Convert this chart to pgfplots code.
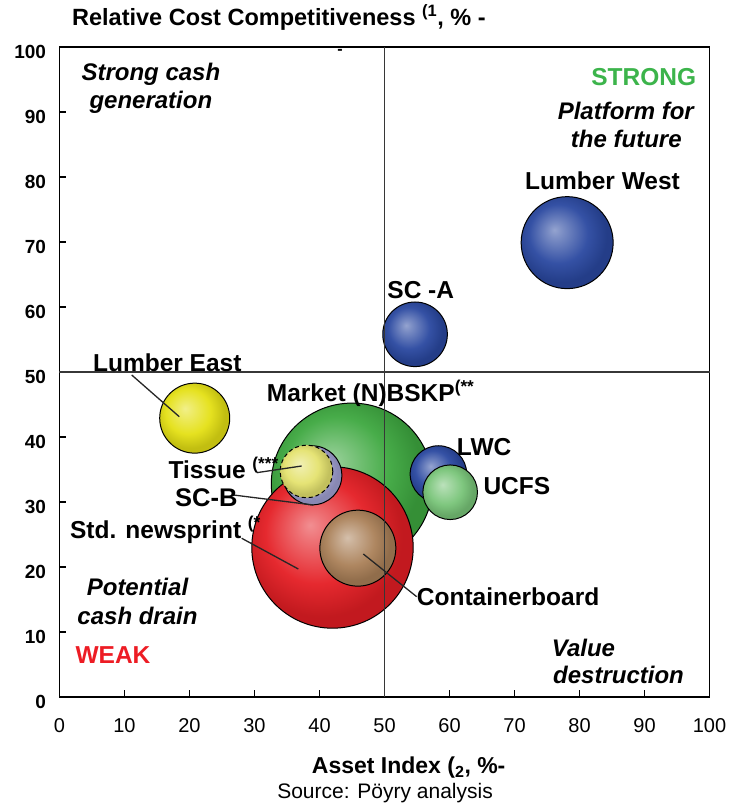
\documentclass[border=0pt]{standalone}
\usepackage{fontspec}
\setmainfont{Liberation Sans}
\usepackage{pgfplots}
\pgfplotsset{compat=1.18}

% bubble fill colours
\definecolor{cblue}{RGB}{42,72,160}
\definecolor{cyellow}{RGB}{228,224,20}
\definecolor{cgreen}{RGB}{62,168,64}
\definecolor{cred}{RGB}{228,30,36}
\definecolor{cbrown}{RGB}{170,128,88}
\definecolor{clav}{RGB}{160,160,210}
\definecolor{ctissue}{RGB}{228,226,110}
\definecolor{cucfs}{RGB}{120,196,120}
\definecolor{strong}{RGB}{60,180,75}
\definecolor{weak}{RGB}{237,28,36}
\definecolor{divider}{RGB}{55,55,55}

% glossy bubble: radial shading with the highlight up and to the left
\colorlet{bubcol}{cblue}
\pgfdeclareradialshading[bubcol]{bubble}{\pgfqpoint{-7bp}{7bp}}{%
  color(0bp)=(bubcol!50!white);
  color(4bp)=(bubcol!62!white);
  color(16bp)=(bubcol!95!white);
  color(25bp)=(bubcol!85!black);
  color(50bp)=(bubcol!85!black)}
\pgfdeclareplotmark{bubble}{%
  \pgfpathcircle{\pgfpointorigin}{\pgfplotmarksize}%
  \pgfshadepath{bubble}{0}%
  \pgfpathcircle{\pgfpointorigin}{\pgfplotmarksize}%
  \pgfusepathqstroke}

\pgfplotsset{
  bub/.style args={#1/#2}{only marks, mark=bubble, mark size=#2,
    mark options={/utils/exec={\colorlet{bubcol}{#1}}, draw=black, line width=1pt, solid}},
  leader/.style={no marks, black!85, line width=1.3pt, forget plot},
}
\newcommand{\lab}{\fontsize{24.5}{24.5}\selectfont\bfseries}
\newcommand{\quadfont}{\fontsize{24}{28}\selectfont\bfseries\itshape}

\begin{document}
\begin{tikzpicture}
\useasboundingbox (-59.5pt,-108pt) rectangle (668.5pt,697pt);
\begin{axis}[
  at={(0pt,0pt)}, anchor=south west,
  scale only axis, width=650pt, height=650pt,
  xmin=0, xmax=100, ymin=0, ymax=100,
  xtick={0,10,...,100}, ytick={0,10,...,100},
  xtick pos=bottom, ytick pos=left,
  tick align=inside, major tick length=7pt,
  tick style={black, line width=1.3pt},
  axis line style={black, line width=1.5pt},
  /pgf/number format/assume math mode=true,
  xticklabel style={font=\fontsize{20}{20}\selectfont, yshift=-18pt},
  yticklabel style={font=\fontsize{19}{19}\selectfont\bfseries, xshift=-10pt, yshift=-5pt},
  clip=false, clip marker paths=true,
]
% bubbles, back to front
\addplot[bub={cblue/46pt}]   coordinates {(78.1,69.9)};   % Lumber West
\addplot[bub={cblue/32.3pt}] coordinates {(54.7,55.8)};   % SC-A
\addplot[bub={cyellow/35pt}] coordinates {(20.8,42.9)};   % Lumber East
\addplot[bub={cgreen/80.7pt}] coordinates {(45.0,32.8)};  % Market (N)BSKP
\addplot[bub={cblue/28.3pt}] coordinates {(58.3,34.3)};   % LWC
\addplot[bub={cucfs/27.3pt}] coordinates {(60.1,31.5)};   % UCFS
\addplot[bub={cred/80.7pt}]  coordinates {(42.0,23.0)};   % Std. newsprint
\addplot[bub={clav/29.5pt}]  coordinates {(38.9,34.1)};   % SC-B
\addplot[only marks, mark=bubble, mark size=26.3pt,
  mark options={/utils/exec={\colorlet{bubcol}{ctissue}}, draw=black, line width=1pt,
  dash pattern=on 4pt off 3pt}] coordinates {(38.0,34.7)}; % Tissue
\addplot[bub={cbrown/38pt}]  coordinates {(45.9,22.9)};   % Containerboard

% quadrant dividers
\addplot[no marks, divider, line width=1.2pt] coordinates {(50,0) (50,100)};
\addplot[no marks, divider, line width=1.2pt] coordinates {(0,50) (100,50)};

% leader lines from labels to bubbles
\addplot[leader] coordinates {(11.11,49.54) (18.43,43.12)};
\addplot[leader] coordinates {(30.34,34.51) (37.26,35.54)};
\addplot[leader] coordinates {(26.74,31.08) (39.05,29.54)};
\addplot[leader] coordinates {(28.03,24.42) (36.74,19.69)};
\addplot[leader] coordinates {(46.74,22.0) (54.95,15.43)};
\end{axis}

% labels on top of the bubbles, in the axis' own units (6.5pt per unit)
\begin{scope}[x=6.5pt, y=6.5pt]
\node[font=\lab, anchor=base] at (83.54,78.0) {Lumber West};
\node[font=\lab, anchor=base] at (55.58,61.38) {SC -A};
\node[font=\lab, anchor=base] at (16.58,50.05) {Lumber East};
\node[font=\lab, anchor=base west, inner sep=0pt] at (31.88,45.43) {Market (N)BSKP\textsuperscript{(**}};
\node[font=\lab, anchor=base west, inner sep=0pt] at (61.11,37.08) {LWC};
\node[font=\lab, anchor=base west, inner sep=0pt] at (65.2,31.23) {UCFS};
\node[font=\lab, anchor=base west, inner sep=0pt] at (16.74,33.65) {Tissue \textsuperscript{(***}};
\node[font=\fontsize{25.5}{25.5}\selectfont\bfseries, anchor=base west, inner sep=0pt] at (17.77,29.28) {SC-B};
\node[font=\lab, anchor=base west, inner sep=0pt] at (1.6,24.46) {Std. newsprint \textsuperscript{(*}};
\node[font=\lab, anchor=base west, inner sep=0pt] at (54.95,14.15) {Containerboard};

% quadrant captions
\node[font=\quadfont, anchor=base] at (14.06,94.92) {Strong cash};
\node[font=\quadfont, anchor=base] at (14.06,90.46) {generation};
\node[font=\lab, text=strong, anchor=base] at (89.88,94.15) {STRONG};
\node[font=\quadfont, anchor=base] at (87.12,88.77) {Platform for};
\node[font=\quadfont, anchor=base] at (87.2,84.57) {the future};
\node[font=\quadfont, anchor=base] at (12.0,15.69) {Potential};
\node[font=\quadfont, anchor=base] at (12.0,11.23) {cash drain};
\node[font=\lab, text=weak, anchor=base] at (8.23,5.08) {WEAK};
\node[font=\quadfont, anchor=base west, inner sep=0pt] at (75.72,6.2) {Value};
\node[font=\quadfont, anchor=base west, inner sep=0pt] at (75.92,2.0) {destruction};

% axis titles and source
\node[font=\fontsize{23.5}{23.5}\selectfont\bfseries, anchor=base west, inner sep=0pt]
  at (1.92,103.23) {Relative Cost Competitiveness \textsuperscript{(1}, \% -};
\node[font=\fontsize{16}{16}\selectfont\bfseries, anchor=center, inner sep=0pt]
  at (43.15,99.3) {-};
\node[font=\fontsize{23}{23}\selectfont\bfseries, anchor=base west, inner sep=0pt]
  at (38.8,-11.74) {Asset Index (\textsubscript{2}, \%-};
\node[font=\fontsize{21}{21}\selectfont, anchor=base] at (50.08,-15.69) {Source: Pöyry analysis};
\end{scope}
\end{tikzpicture}
\end{document}
